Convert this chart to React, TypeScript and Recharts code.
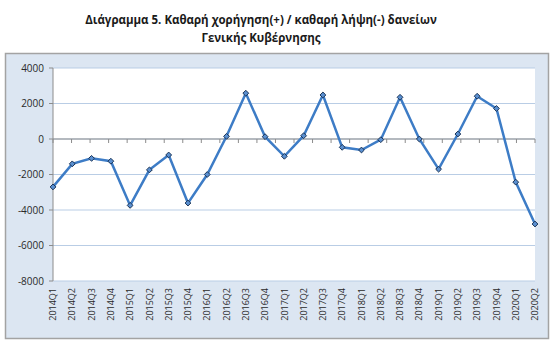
import React from "react";
import {
  LineChart,
  Line,
  XAxis,
  YAxis,
  CartesianGrid,
  ReferenceLine,
} from "recharts";

const categories = [
  "2014Q1", "2014Q2", "2014Q3", "2014Q4",
  "2015Q1", "2015Q2", "2015Q3", "2015Q4",
  "2016Q1", "2016Q2", "2016Q3", "2016Q4",
  "2017Q1", "2017Q2", "2017Q3", "2017Q4",
  "2018Q1", "2018Q2", "2018Q3", "2018Q4",
  "2019Q1", "2019Q2", "2019Q3", "2019Q4",
  "2020Q1", "2020Q2",
];

const values = [
  -2700, -1400, -1090, -1250,
  -3740, -1740, -900, -3610,
  -2000, 150, 2580, 130,
  -975, 185, 2480, -470,
  -620, -40, 2350, 0,
  -1700, 280, 2410, 1720,
  -2430, -4790,
];

const yTicks = [-8000, -6000, -4000, -2000, 0, 2000, 4000];

const titleLines = [
  "Διάγραμμα 5. Καθαρή χορήγηση(+) / καθαρή λήψη(-) δανείων",
  "Γενικής Κυβέρνησης",
];

const data = categories.map((c, i) => ({ q: c, v: values[i] }));

const FONT = "'Open Sans', sans-serif";

const XTick = (props: any) => {
  const { x, y, payload } = props;
  const ty = y + 7;
  return (
    <text
      x={x}
      y={ty}
      transform={`rotate(-90, ${x}, ${ty})`}
      textAnchor="end"
      dy="0.35em"
      fontSize={9}
      fontFamily={FONT}
      fill="#2a2a2a"
    >
      {payload.value}
    </text>
  );
};

const ZeroLine = (props: any) => {
  const { x1, x2, y1 } = props;
  const n = categories.length;
  const step = (x2 - x1) / n;
  const ticks = [];
  for (let i = 0; i <= n; i++) {
    const tx = x1 + step * i;
    ticks.push(
      <line key={i} x1={tx} x2={tx} y1={y1} y2={y1 + 4} stroke="#8c8c8c" strokeWidth={1} />
    );
  }
  return (
    <g>
      <line x1={x1} x2={x2} y1={y1} y2={y1} stroke="#8c8c8c" strokeWidth={1} />
      {ticks}
    </g>
  );
};

const Diamond = (props: any) => {
  const { cx, cy, index } = props;
  if (cx == null || cy == null) return null;
  const r = 2.9;
  return (
    <path
      key={index}
      d={`M${cx},${cy - r}L${cx + r},${cy}L${cx},${cy + r}L${cx - r},${cy}Z`}
      fill="#5a8fd0"
      stroke="#1c3557"
      strokeWidth={1}
    />
  );
};

export default function App() {
  return (
    <div style={{ position: "absolute", left: 0, top: 0, width: 558, height: 347, background: "#fff" }}>
      <svg width={558} height={347} style={{ position: "absolute", left: 0, top: 0 }}>
        <rect x={5.5} y={53.5} width={543} height={285} fill="#dce6f2" stroke="#a3a3a3" strokeWidth={1.5} />
        {titleLines.map((t, i) => (
          <text
            key={i}
            x={261}
            y={24 + i * 18}
            textAnchor="middle"
            fontSize={11.5}
            fontWeight="bold"
            fontFamily={FONT}
            fill="#1a1a1a"
          >
            {t}
          </text>
        ))}
      </svg>
      <div style={{ position: "absolute", left: 0, top: 0 }}>
        <LineChart
          width={558}
          height={347}
          data={data}
          margin={{ top: 68, right: 23, bottom: 26, left: 13 }}
        >
          <CartesianGrid vertical={false} stroke="#b9cde5" fill="#ffffff" strokeWidth={1} />
          <XAxis
            dataKey="q"
            interval={0}
            axisLine={false}
            tickLine={false}
            tickSize={0}
            tickMargin={0}
            height={40}
            tick={<XTick />}
          />
          <YAxis
            domain={[-8000, 4000]}
            ticks={yTicks}
            width={40}
            interval={0}
            axisLine={{ stroke: "#8c8c8c" }}
            tickLine={{ stroke: "#8c8c8c" }}
            tickSize={4}
            tickMargin={5}
            tick={{ fontSize: 10, fontFamily: FONT, fill: "#2a2a2a" }}
          />
          <ReferenceLine y={0} shape={<ZeroLine />} />
          <Line
            type="linear"
            dataKey="v"
            stroke="#3d7cc6"
            strokeWidth={2.5}
            dot={<Diamond />}
            activeDot={false}
            isAnimationActive={false}
          />
        </LineChart>
      </div>
    </div>
  );
}
